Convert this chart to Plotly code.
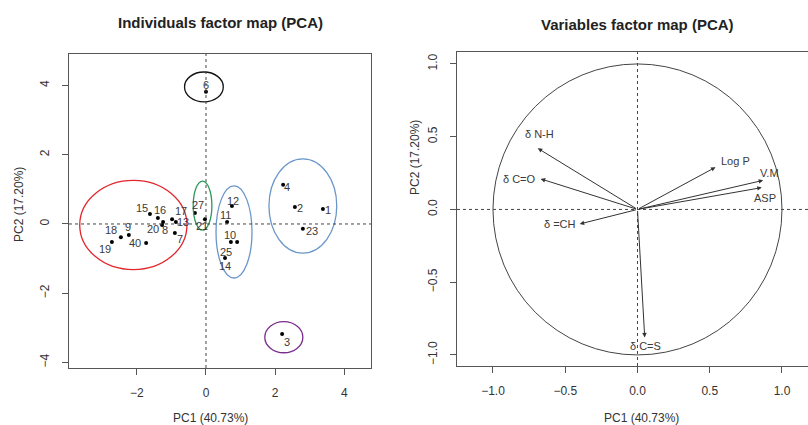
import plotly.graph_objects as go

# ---------------- data ----------------
ind_labels = ["1", "2", "3", "4", "6", "7", "8", "9", "10", "11", "12", "13",
              "14", "15", "16", "17", "18", "19", "20", "21", "23", "25", "27", "40"]
ind_pc1 = [3.38, 2.57, 2.20, 2.23, 0.00, -0.90, -1.24, -2.23, 0.90, 0.61, 0.75, -0.87,
           0.55, -1.62, -1.39, -0.98, -2.46, -2.72, -1.27, -0.03, 2.80, 0.72, -0.32, -1.73]
ind_pc2 = [0.43, 0.49, -3.18, 1.13, 3.82, -0.26, 0.06, -0.32, -0.52, 0.06, 0.52, 0.06,
           -0.98, 0.29, 0.17, 0.14, -0.38, -0.52, -0.03, 0.14, -0.14, -0.52, 0.32, -0.55]

cluster_cx = [-2.10, -0.10, 0.81, 2.80, -0.06, 2.25]
cluster_cy = [-0.03, 0.53, -0.23, 0.52, 3.96, -3.27]
cluster_rx = [1.55, 0.27, 0.52, 0.98, 0.56, 0.55]
cluster_ry = [1.29, 0.71, 1.33, 1.36, 0.43, 0.45]
cluster_colors = ["#e2262c", "#2c9a5a", "#6a97c9", "#6a97c9", "#111111", "#7a2c8c"]

var_names = ["δ N-H", "δ C=O", "δ =CH", "Log P", "V.M", "ASP", "δ C=S"]
var_pc1 = [-0.69, -0.67, -0.40, 0.54, 0.87, 0.86, 0.05]
var_pc2 = [0.42, 0.21, -0.10, 0.29, 0.20, 0.15, -0.88]

ind_xticks = [-2, 0, 2, 4]
ind_yticks = [-4, -2, 0, 2, 4]
var_ticks = [-1.0, -0.5, 0.0, 0.5, 1.0]

# ---------------- styles ----------------
# label offsets in screen pixels (dx right, dy down)
ind_offsets = {
    "1": (5, 1), "2": (5, 1), "3": (5, 8), "4": (4, 2), "6": (0, -7), "7": (5, 6),
    "8": (2, 8), "9": (-1, -8), "10": (-7, -7), "11": (-2, -7), "12": (1, -5),
    "13": (7, 0), "14": (0, 8), "15": (-8, -6), "16": (2, -8), "17": (9, -8),
    "18": (-10, -7), "19": (-7, 7), "20": (-9, 4), "21": (-3, 7), "23": (9, 2),
    "25": (-5, 10), "27": (3, -8), "40": (-11, 0),
}
# (xanchor, dx, dy)
var_offsets = [("center", 2, -14), ("right", -3, 0), ("right", -2, 0), ("left", 3, -6),
               ("center", 6, -7), ("center", 3, 10), ("center", 1, 9)]

FONT = "Liberation Sans, Arial, sans-serif"
TXT = "#333333"
LBL = "#3a3a3a"
W, H = 808, 425

fig = go.Figure()

# individuals (points)
fig.add_trace(go.Scatter(
    x=ind_pc1, y=ind_pc2, mode="markers",
    marker=dict(color="black", size=4),
    xaxis="x", yaxis="y", showlegend=False, hoverinfo="text", text=ind_labels,
))

shapes = []
# cluster ellipses
for cx, cy, rx, ry, col in zip(cluster_cx, cluster_cy, cluster_rx, cluster_ry, cluster_colors):
    shapes.append(dict(type="circle", xref="x", yref="y", x0=cx - rx, x1=cx + rx,
                       y0=cy - ry, y1=cy + ry, line=dict(color=col, width=1.3)))
# zero lines, left
shapes.append(dict(type="line", xref="x", yref="y domain", x0=0, x1=0, y0=0, y1=1,
                   line=dict(color="#444", width=1, dash="3px,3px")))
shapes.append(dict(type="line", xref="x domain", yref="y", x0=0, x1=1, y0=0, y1=0,
                   line=dict(color="#444", width=1, dash="3px,3px")))
# correlation circle and zero lines, right
shapes.append(dict(type="circle", xref="x2", yref="y2", x0=-1, x1=1, y0=-1, y1=1,
                   line=dict(color="#444", width=1)))
shapes.append(dict(type="line", xref="x2", yref="y2 domain", x0=0, x1=0, y0=0, y1=1,
                   line=dict(color="#444", width=1, dash="3px,3px")))
shapes.append(dict(type="line", xref="x2 domain", yref="y2", x0=0, x1=1, y0=0, y1=0,
                   line=dict(color="#444", width=1, dash="3px,3px")))

annotations = []
# individual labels
for lab, px_, py_ in zip(ind_labels, ind_pc1, ind_pc2):
    dx, dy = ind_offsets[lab]
    annotations.append(dict(x=px_, y=py_, xref="x", yref="y", text=lab, showarrow=False,
                            xanchor="center", yanchor="middle", xshift=dx, yshift=-dy,
                            font=dict(family=FONT, size=11, color=LBL)))
# arrows
for vx, vy in zip(var_pc1, var_pc2):
    annotations.append(dict(x=vx, y=vy, ax=0, ay=0, xref="x2", yref="y2",
                            axref="x2", ayref="y2", text="", showarrow=True,
                            arrowhead=2, arrowsize=0.9, arrowwidth=1,
                            arrowcolor="#333"))
# variable labels
for name, vx, vy, (xa, dx, dy) in zip(var_names, var_pc1, var_pc2, var_offsets):
    annotations.append(dict(x=vx, y=vy, xref="x2", yref="y2", text=name, showarrow=False,
                            xanchor=xa, yanchor="middle", xshift=dx, yshift=-dy,
                            font=dict(family=FONT, size=11, color=LBL)))
# titles
annotations.append(dict(text="<b>Individuals factor map (PCA)</b>", x=220 / W, y=1 - 23 / H,
                        xref="paper", yref="paper", showarrow=False,
                        xanchor="center", yanchor="middle",
                        font=dict(family=FONT, size=15, color="#222")))
annotations.append(dict(text="<b>Variables factor map (PCA)</b>", x=637 / W, y=1 - 24 / H,
                        xref="paper", yref="paper", showarrow=False,
                        xanchor="center", yanchor="middle",
                        font=dict(family=FONT, size=15, color="#222")))
# axis titles
for xc in (210, 641):
    annotations.append(dict(text="PC1 (40.73%)", x=xc / W, y=1 - 418 / H, xref="paper",
                            yref="paper", showarrow=False,
                            xanchor="center", yanchor="middle",
                            font=dict(family=FONT, size=12, color=TXT)))
for xc, yc in ((19, 205), (415, 158)):
    annotations.append(dict(text="PC2 (17.20%)", x=xc / W, y=1 - yc / H, xref="paper",
                            yref="paper", showarrow=False, textangle=-90,
                            xanchor="center", yanchor="middle",
                            font=dict(family=FONT, size=12, color=TXT)))

axis_common = dict(showgrid=False, zeroline=False, showline=True, linecolor="#555",
                   linewidth=1, ticks="outside", ticklen=6, tickcolor="#555",
                   tickfont=dict(family=FONT, size=12, color=TXT))

fig.update_layout(
    width=W, height=H, margin=dict(l=0, r=0, t=0, b=0),
    paper_bgcolor="white", plot_bgcolor="white",
    shapes=shapes, annotations=annotations,
    xaxis=dict(domain=[69 / W, 371 / W], range=[-3.96, 4.77], tickvals=ind_xticks,
               anchor="y", mirror=True, ticklabelstandoff=8, **axis_common),
    yaxis=dict(domain=[1 - 368 / H, 1 - 54 / H], range=[-4.16, 4.91], tickvals=ind_yticks,
               anchor="x", mirror=True, tickangle=-90, ticklabelstandoff=8, **axis_common),
    xaxis2=dict(domain=[457 / W, 1.0], range=[-1.249, 1.180], tickvals=var_ticks,
                tickformat=".1f", anchor="y2", mirror=True, ticklabelstandoff=8,
                **axis_common),
    yaxis2=dict(domain=[1 - 366 / H, 1 - 52 / H], range=[-1.076, 1.082], tickvals=var_ticks,
                tickformat=".1f", anchor="x2", mirror=False, tickangle=-90,
                ticklabelstandoff=8, **axis_common),
)

fig.write_html("out.html", config={"displayModeBar": False},
               post_script="document.body.style.margin='0';"
               "document.body.style.overflow='hidden';")
